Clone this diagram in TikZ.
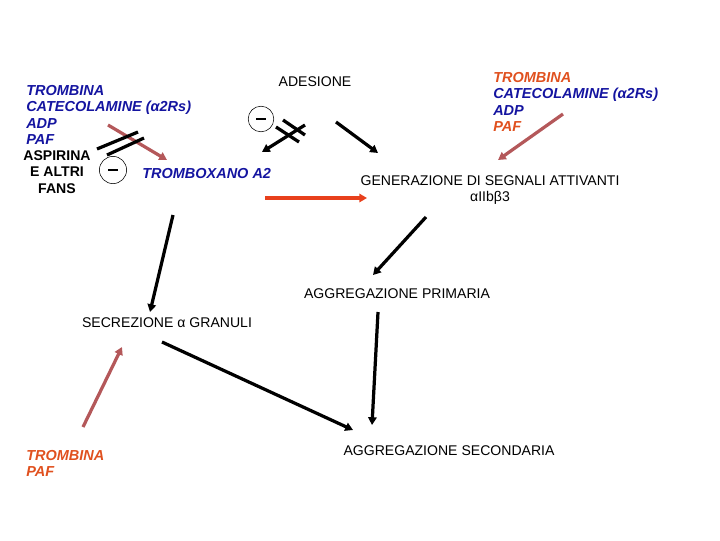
\documentclass[tikz,border=0pt]{standalone}
\usepackage{fontspec}
\setmainfont{Liberation Sans}
\usepackage{xcolor}
\usetikzlibrary{arrows.meta}
\definecolor{trblue}{HTML}{1414A0}
\definecolor{trorange}{HTML}{E0501E}
\definecolor{trbrown}{HTML}{B4585A}
\definecolor{trred}{HTML}{E8401C}
\newcommand{\minusbar}{\rule{6.5pt}{1.8pt}}

\begin{document}
\begin{tikzpicture}[x=0.025cm, y=-0.025cm,
    plain/.style={font=\fontsize{10}{12}\selectfont, inner sep=0pt},
    agent/.style={font=\fontsize{10.3}{11.7}\selectfont\bfseries\itshape, inner sep=0pt, align=left},
    minus/.style={draw, thin, circle, minimum size=0.68cm, inner sep=0pt},
    flow/.style={line width=2.3pt, -{Triangle[length=5.5pt, width=6pt]}},
    act/.style={flow, trbrown},
    bar/.style={line width=2.3pt},
]
\useasboundingbox (0,0) rectangle (720,540);

% Left agents and inhibitors
\node[agent, text=trblue, anchor=north west] (agL) at (26,85)
  {TROMBINA\\CATECOLAMINE (α2Rs)\\ADP\\PAF};
\node[agent, font=\fontsize{10}{11.8}\selectfont\bfseries, align=center, anchor=north] (fans) at (57,150)
  {ASPIRINA\\E ALTRI\\FANS};
\node[minus] (mnA) at (113,170) {\minusbar};
\node[agent, text=trblue, anchor=west] (txa) at (142,174) {TROMBOXANO A2};

% Adhesion
\node[plain] (ades) at (315,82) {ADESIONE};
\node[minus, minimum size=0.64cm] (mnB) at (261,119) {\minusbar};

% Right agents
\node[agent, anchor=north west] (agR) at (493,72)
  {\color{trorange}TROMBINA\\\color{trblue}CATECOLAMINE (α2Rs)\\\color{trblue}ADP\\\color{trorange}PAF};

% Main steps
\node[plain, align=center, anchor=north] (gen) at (490,175)
  {GENERAZIONE DI SEGNALI ATTIVANTI\\[-0.4pt]αIIbβ3};
\node[plain] (prim) at (397,294) {AGGREGAZIONE PRIMARIA};
\node[plain] (secr) at (167,323) {SECREZIONE α GRANULI};
\node[plain] (sec) at (449,451) {AGGREGAZIONE SECONDARIA};
\node[agent, text=trorange, anchor=north west] (agB) at (26,450) {TROMBINA\\PAF};

% Arrow ends
\coordinate (a1s) at (108,125);  \coordinate (a1e) at (167,160);
\coordinate (a2s) at (305,125);  \coordinate (a2e) at (262,152);
\coordinate (a3s) at (336,122);  \coordinate (a3e) at (378,153);
\coordinate (a4s) at (563,114);  \coordinate (a4e) at (498,160);
\coordinate (a5s) at (265,198);  \coordinate (a5e) at (367,198);
\coordinate (a6s) at (173,215);  \coordinate (a6e) at (150,312);
\coordinate (a7s) at (426,217);  \coordinate (a7e) at (373,275);
\coordinate (a8s) at (378,312);  \coordinate (a8e) at (372,425);
\coordinate (a9s) at (162,342);  \coordinate (a9e) at (353,430);
\coordinate (a10s) at (83,427);  \coordinate (a10e) at (122,347);

% Arrows
\draw[act] (a1s) -- (a1e);
\draw[flow] (a2s) -- (a2e);
\draw[flow] (a3s) -- (a3e);
\draw[act] (a4s) -- (a4e);
\draw[flow, trred, line width=2.6pt] (a5s) -- (a5e);
\draw[flow] (a6s) -- (a6e);
\draw[flow] (a7s) -- (a7e);
\draw[flow] (a8s) -- (a8e);
\draw[flow] (a9s) -- (a9e);
\draw[act] (a10s) -- (a10e);

% Block bars
\draw[bar] (97,149) -- (138,132);
\draw[bar] (107,155) -- (144,138);
\draw[bar] (283,120) -- (305,135);
\draw[bar] (276,127) -- (299,142);

\end{tikzpicture}
\end{document}
